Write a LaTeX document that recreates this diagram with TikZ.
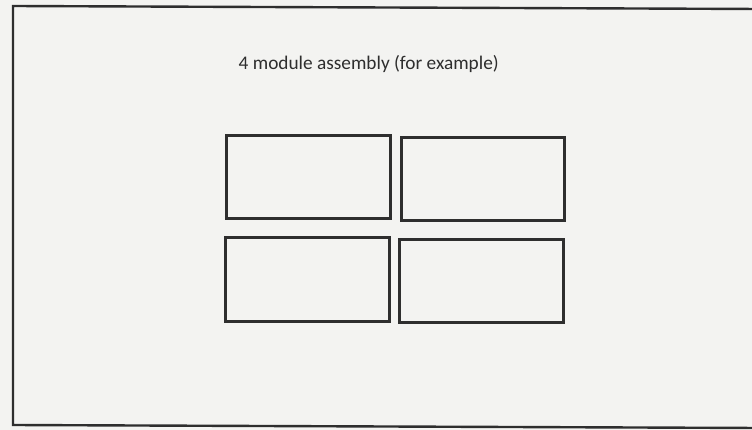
\documentclass[tikz,border=0pt]{standalone}
\usepackage{fontspec}
\setmainfont{Carlito}
\definecolor{paper}{HTML}{F3F3F1}
\definecolor{ink}{HTML}{2E2E2E}
\tikzset{
  module/.style={draw=ink, line width=2.8pt},
  frame/.style={draw=ink, line width=2.4pt},
  caption/.style={text=ink, font=\fontsize{19.3}{21}\selectfont, inner sep=0pt, anchor=base west}
}
\begin{document}
\begin{tikzpicture}[x=1pt,y=-1pt]
\fill[paper] (0,0) rectangle (752,430);
\useasboundingbox (0,0) rectangle (752,430);
\draw[frame] (760,9) -- (13,6) -- (13,425) -- (760,428);
\node[caption] (title) at (238.5,69.5) {4 module assembly (for example)};
\draw[module] (226.5,135.5) rectangle (390.5,218.5);
\draw[module] (401.5,137.5) rectangle (564.5,220.5);
\draw[module] (225.5,237.5) rectangle (389.5,321.5);
\draw[module] (399.5,239.5) rectangle (563.5,322.5);
\end{tikzpicture}
\end{document}
